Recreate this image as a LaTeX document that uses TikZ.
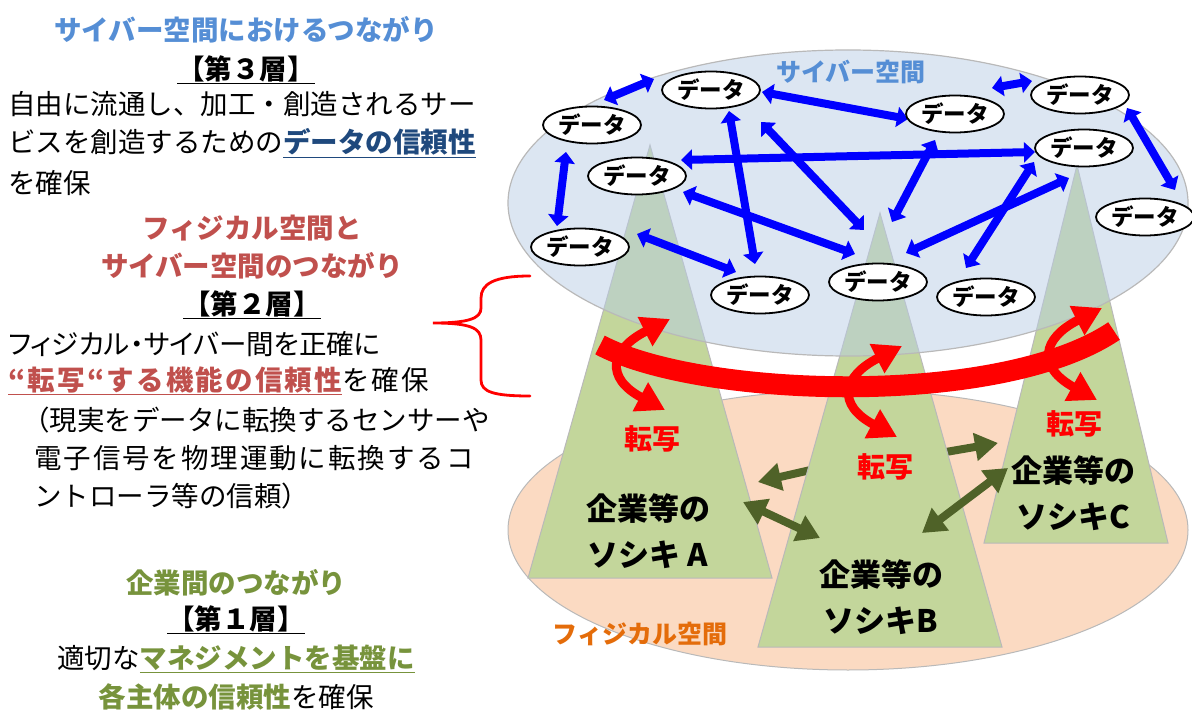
\documentclass[tikz,border=0pt]{standalone}
\usepackage{fontspec}
\setmainfont{Noto Sans CJK JP}
\usetikzlibrary{shapes.geometric,arrows.meta}
\definecolor{cybertitle}{RGB}{85,142,213}
\definecolor{darkblue}{RGB}{31,73,125}
\definecolor{redtitle}{RGB}{192,80,77}
\definecolor{greentitle}{RGB}{119,147,60}
\definecolor{orangelbl}{RGB}{228,108,10}
\definecolor{peach}{RGB}{251,218,194}
\definecolor{cyberfill}{RGB}{185,205,229}
\definecolor{trigreen}{RGB}{195,214,155}
\definecolor{greyline}{RGB}{185,185,185}
\definecolor{arrowblue}{RGB}{0,0,255}
\definecolor{arrowgreen}{RGB}{79,98,40}
\definecolor{purered}{RGB}{255,0,0}
\begin{document}
\begin{tikzpicture}[x=1pt,y=-1pt,
  dnode/.style={ellipse, draw=black, line width=1.8pt, fill=white, minimum width=98pt, minimum height=37pt, inner sep=0pt, font=\fontsize{22.5}{22.5}\selectfont\bfseries},
  barrow/.style={draw=arrowblue, line width=8pt, {Triangle[length=11pt,width=20pt]}-{Triangle[length=11pt,width=20pt]}},
  garrow/.style={draw=arrowgreen, line width=8pt, -{Triangle[length=23pt,width=27pt]}},
  gdarrow/.style={draw=arrowgreen, line width=8pt, {Triangle[length=23pt,width=27pt]}-{Triangle[length=23pt,width=27pt]}},
  rarrow/.style={draw=purered, line width=9pt, {Triangle[length=28pt,width=31pt]}-{Triangle[length=28pt,width=31pt]}},
  tri/.style={fill=trigreen, draw=greyline, line width=1pt},
  body/.style={font=\fontsize{27.5}{33}\selectfont, inner sep=0pt},
  ttl/.style={font=\fontsize{27.5}{33}\selectfont\bfseries, inner sep=0pt},
  corp/.style={font=\fontsize{31}{46}\selectfont\bfseries, align=center, inner sep=0pt},
  tensha/.style={font=\fontsize{28}{28}\selectfont\bfseries, text=purered, inner sep=0pt}
]
\useasboundingbox (0,0) rectangle (1192,711);

% physical space
\path[draw=greyline, fill=peach, line width=1pt] (848,530) ellipse [x radius=340pt, y radius=140pt];

% green arrows partly hidden under B
\coordinate (g1s) at (815,469);
\coordinate (g1e) at (758,482);
\coordinate (g2s) at (940,453);
\coordinate (g2e) at (998,443);
\draw[garrow] (g1s) -- (g1e);
\draw[garrow] (g2s) -- (g2e);

% pyramids
\draw[tri] (528,578) -- (650,145) -- (772,578) -- cycle;
\draw[tri] (758,647) -- (880,213) -- (1002,647) -- cycle;
\draw[tri] (984,543) -- (1077,165) -- (1168,543) -- cycle;

% cyber space
\path[draw=greyline, line width=1.2pt, fill=cyberfill, fill opacity=0.5] (848,203) ellipse [x radius=340pt, y radius=153pt];
\node[font=\fontsize{25}{25}\selectfont\bfseries, text=cybertitle, inner sep=0pt] (cyberlbl) at (851,72) {サイバー空間};

% blue arrow endpoints
\coordinate (a1) at (604,100); \coordinate (a2) at (654,79);
\coordinate (b1) at (762,92);  \coordinate (b2) at (908,119);
\coordinate (c1) at (992,88);  \coordinate (c2) at (1032,81);
\coordinate (d1) at (1127,108); \coordinate (d2) at (1175,190);
\coordinate (e1) at (681,160); \coordinate (e2) at (1035,152);
\coordinate (f1) at (566,152); \coordinate (f2) at (557,226);
\coordinate (h1) at (729,111); \coordinate (h2) at (755,264);
\coordinate (i1) at (761,122); \coordinate (i2) at (864,230);
\coordinate (j1) at (683,192); \coordinate (j2) at (855,254);
\coordinate (k1) at (637,234); \coordinate (k2) at (736,272);
\coordinate (l1) at (935,140); \coordinate (l2) at (892,222);
\coordinate (m1) at (1069,178); \coordinate (m2) at (906,253);
\coordinate (n1) at (1034,162); \coordinate (n2) at (966,268);
\foreach \p in {a,b,c,d,e,f,h,i,j,k,l,m,n} {\draw[barrow] (\p1) -- (\p2);}

% data nodes
\node[dnode] (N1) at (711,90) {データ};
\node[dnode] (N2) at (592,125) {データ};
\node[dnode] (N3) at (637,176) {データ};
\node[dnode] (N4) at (580,247) {データ};
\node[dnode] (N5) at (760,295) {データ};
\node[dnode] (N6) at (878,282) {データ};
\node[dnode] (N7) at (986,297) {データ};
\node[dnode] (N8) at (955,114) {データ};
\node[dnode] (N9) at (1080,95) {データ};
\node[dnode] (N10) at (1084,148) {データ};
\node[dnode] (N11) at (1145,217) {データ};

% red transfer band
\draw[purered, line width=21pt] (600,345) .. controls (700,398) and (1000,408) .. (1114,331);
\draw[rarrow] (670,319) .. controls (609.5,349.6) and (605,378) .. (665,410);
\draw[rarrow] (902,346) .. controls (841.5,376.6) and (837,405) .. (897,437);
\draw[rarrow] (1102,308) .. controls (1041.5,338.6) and (1037,367) .. (1097,400);
\node[tensha] (tA) at (652,439) {転写};
\node[tensha] (tB) at (885,467) {転写};
\node[tensha] (tC) at (1074,424) {転写};

% green arrows on top
\coordinate (g3s) at (743,502); \coordinate (g3e) at (820,538);
\coordinate (g4s) at (922,533); \coordinate (g4e) at (1008,468);
\draw[gdarrow] (g3s) -- (g3e);
\draw[gdarrow] (g4s) -- (g4e);

% corp labels
\node[corp] (cA) at (648,531) {企業等の\\ソシキ A};
\node[corp] (cB) at (881,597) {企業等の\\ソシキB};
\node[corp] (cC) at (1073,493) {企業等の\\ソシキC};

\node[font=\fontsize{25}{25}\selectfont\bfseries, text=orangelbl, inner sep=0pt] (physlbl) at (640,634) {フィジカル空間};

% left text: layer 3
\node[ttl, text=cybertitle] (L1) at (246,30) {サイバー空間におけるつながり};
\node[ttl] (L2) at (246,70) {\underline{【第３層】}};
\node[body, anchor=west] (L3) at (8,104) {自由に流通し、加工・創造されるサー};
\node[body, anchor=west] (L4) at (8,143) {ビスを創造するための{\color{darkblue}\bfseries\underline{データの信頼性}}};
\node[body, anchor=west] (L5) at (8,183) {を確保};

% layer 2
\node[ttl, text=redtitle] (L6) at (252,228) {フィジカル空間と};
\node[ttl, text=redtitle] (L7) at (252,266) {サイバー空間のつながり};
\node[ttl] (L8) at (252,305) {\underline{【第２層】}};
\node[body, anchor=west] (L9) at (8,344) {\addfontfeature{RawFeature=+palt}フィジカル・サイバー間を正確に};
\node[body, anchor=west] (L10) at (8,381) {{\color{redtitle}\bfseries\addfontfeature{LetterSpace=8}\underline{“転写“する機能の信頼性}}\addfontfeature{LetterSpace=8}を確保};
\node[body, anchor=west] (L11) at (22,420) {（現実をデータに転換するセンサーや};
\node[body, anchor=west] (L12) at (34,458) {\addfontfeature{LetterSpace=7}電子信号を物理運動に転換するコ};
\node[body, anchor=west] (L13) at (34,496) {ントローラ等の信頼）};

% brace
\draw[purered, line width=2.8pt, line cap=round] (530,276) .. controls (494,276) and (481,284) .. (481,298) -- (481,308) .. controls (481,318) and (470,323) .. (433,323) .. controls (470,323) and (481,328) .. (481,340) -- (481,380) .. controls (481,392) and (494,396) .. (530,396);

% layer 1
\node[ttl, text=greentitle] (L14) at (236,583) {企業間のつながり};
\node[ttl] (L15) at (236,620) {\underline{【第１層】}};
\node[body] (L16) at (236,659) {適切な{\color{greentitle}\bfseries\underline{マネジメントを基盤に}}};
\node[body] (L17) at (236,697) {{\color{greentitle}\bfseries 各主体の信頼性}を確保};
\end{tikzpicture}
\end{document}
